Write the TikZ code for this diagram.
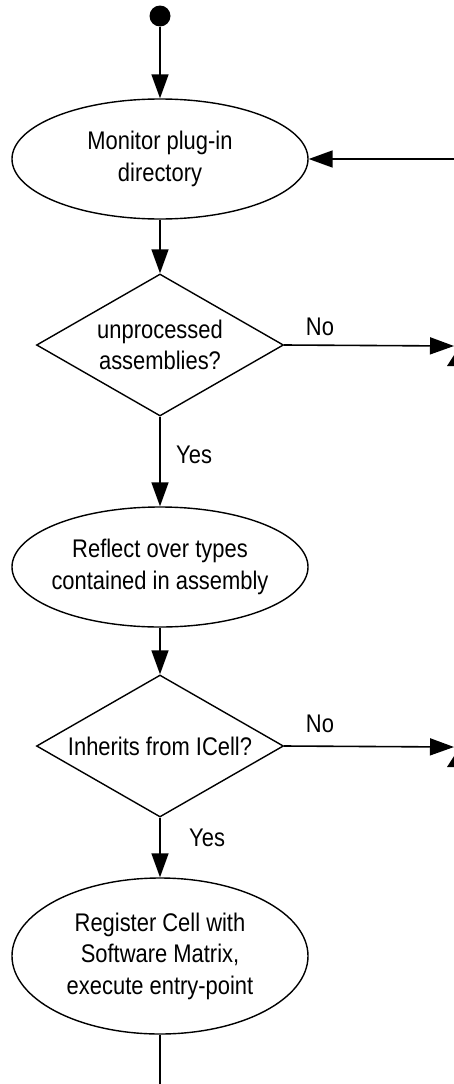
\documentclass[tikz,border=0pt]{standalone}
\usepackage{fontspec}
\usetikzlibrary{shapes.geometric,arrows.meta}
\newfontfamily\flowfont[FakeStretch=0.86]{Liberation Sans}
\begin{document}
\begin{tikzpicture}[x=1pt,y=-1pt,
  every node/.style={font=\flowfont\fontsize{25.5}{31.5}\selectfont, align=center, inner sep=0pt},
  activity/.style={draw, line width=1.4pt, ellipse, inner xsep=-6pt, minimum width=296pt},
  decision/.style={draw, line width=1.4pt, diamond, aspect=1.74, minimum width=247pt, minimum height=142pt},
  flow/.style={line width=1.6pt, -{Triangle[length=24pt,width=17pt]}},
  plain/.style={line width=1.6pt},
  guard/.style={anchor=west}]
\useasboundingbox (0,0) rectangle (453,1084);

% initial state
\node[circle, fill=black, minimum size=21pt] (start) at (160,16) {};

% activities and decisions
\node[activity, minimum height=120pt] (mon) at (160,159) {Monitor plug-in\\directory};
\node[decision] (dec1) at (160,345) {unprocessed\\assemblies?};
\node[activity, minimum height=120pt] (refl) at (160,567) {Reflect over types\\contained in assembly};
\node[decision] (dec2) at (160,746) {Inherits from ICell?};
\node[activity, minimum height=156pt] (reg) at (160,956) {Register Cell with\\Software Matrix,\\execute entry-point};

% loose ends of connectors
\coordinate (loop) at (454,159);
\coordinate (out1) at (454,346);
\coordinate (out2) at (454,747);
\coordinate (down) at (160,1090);

% connectors
\draw[flow] (start) -- (mon.north);
\draw[flow] (loop) -- (mon.east);
\draw[flow] (mon.south) -- (dec1.north);
\draw[flow] (dec1.east) -- (out1);
\draw[flow] (dec1.south) -- (refl.north);
\draw[flow] (refl.south) -- (dec2.north);
\draw[flow] (dec2.east) -- (out2);
\draw[flow] (dec2.south) -- (reg.north);
\draw[plain] (reg.south) -- (down);

% guard labels
\node (no1) at (320,327) {No};
\node[guard] (yes1) at (176,455) {Yes};
\node (no2) at (320,724) {No};
\node[guard] (yes2) at (189,838) {Yes};

% arrowheads of the neighbouring branches
\fill (456,352) -- (447,366) -- (466,366) -- cycle;
\fill (456,753) -- (447,767) -- (466,767) -- cycle;
\end{tikzpicture}
\end{document}
